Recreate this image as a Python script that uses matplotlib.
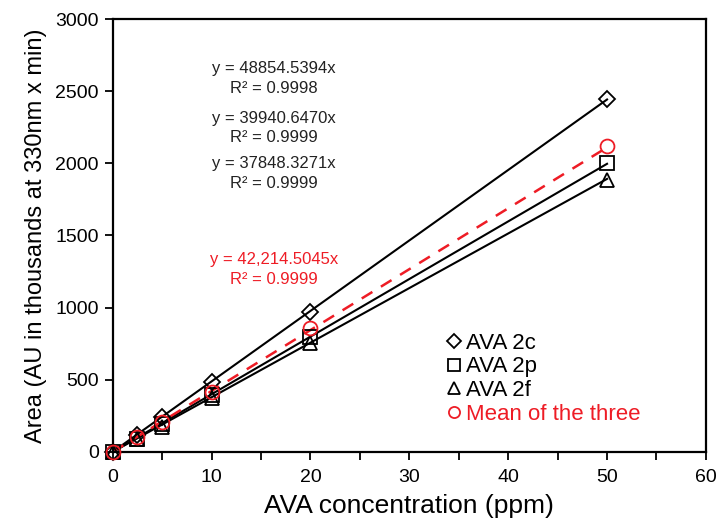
from matplotlib import pyplot as plt
import numpy as np

plt.rcParams['font.family'] = ['Liberation Sans', 'DejaVu Sans']

# concentrations (ppm)
conc = [0, 2.5, 5, 10, 20, 50]
# peak areas (AU in thousands)
ava_2c = [0, 118, 240, 482, 972, 2443]
ava_2p = [0, 92, 190, 395, 798, 2000]
ava_2f = [0, 86, 175, 372, 755, 1882]
ava_mean = [0, 100, 205, 415, 858, 2118]

# fitted slopes (area per ppm) from the trendline labels
slopes = [48854.5394, 39940.6470, 37848.3271]
slope_mean = 42214.5045
r2_text = ["0.9998", "0.9999", "0.9999"]

fig = plt.figure(figsize=(7.27, 5.31), dpi=100)
ax = fig.add_axes([0.155, 0.149, 0.816, 0.815])

xfit = np.array([0, 50])
for s in slopes:
    ax.plot(xfit, s * xfit / 1000, color="black", lw=1.5, zorder=2)
ax.plot(xfit, slope_mean * xfit / 1000, color="#ee1c25", lw=1.8, ls=(0, (5, 4)), zorder=2)

# markers, not clipped so the ones at the origin show in full
mk = dict(ms=10, mfc="none", mew=1.3, ls="none", zorder=3, clip_on=False)
h1, = ax.plot(conc, ava_2c, marker="D", mec="black", **dict(mk, ms=8.5))
h2, = ax.plot(conc, ava_2p, marker="s", mec="black", **mk)
h3, = ax.plot(conc, ava_2f, marker="^", mec="black", **mk)
h4, = ax.plot(conc, ava_mean, marker="o", mec="#ee1c25", **mk)

leg = ax.legend([h1, h2, h3, h4], ["AVA 2c", "AVA 2p", "AVA 2f", "Mean of the three"],
                loc="lower left", bbox_to_anchor=(0.547, 0.037), frameon=False,
                fontsize=16, handlelength=0.5, handletextpad=0.3,
                labelspacing=0.12, markerscale=0.8, borderpad=0)
leg.get_texts()[3].set_color("#ee1c25")

# trendline equations
eq_y = [2590, 2245, 1932]
for s, r, yy in zip(slopes, r2_text, eq_y):
    ax.text(16.3, yy, "y = %.4fx\nR² = %s" % (s, r), ha="center", va="center",
            fontsize=12, linespacing=1.4, color="#222222")
ax.text(16.3, 1266, "y = 42,214.5045x\nR² = 0.9999", ha="center", va="center",
        fontsize=12, linespacing=1.4, color="#ee1c25")

ax.set_xlim(0, 60)
ax.set_ylim(0, 3000)
ax.set_xticks(range(0, 61, 10))
ax.set_xticks(range(5, 60, 10), minor=True)
ax.set_yticks(range(0, 3001, 500))
ax.tick_params(which="both", direction="out", length=6, width=1.3, labelsize=14, pad=6)
ax.tick_params(axis="y", pad=4)
for sp in ax.spines.values():
    sp.set_linewidth(1.6)

ax.set_xlabel("AVA concentration (ppm)", fontsize=19, labelpad=6)
ax.set_ylabel("Area (AU in thousands at 330nm x min)", fontsize=17, labelpad=6)

plt.savefig("out.png")
